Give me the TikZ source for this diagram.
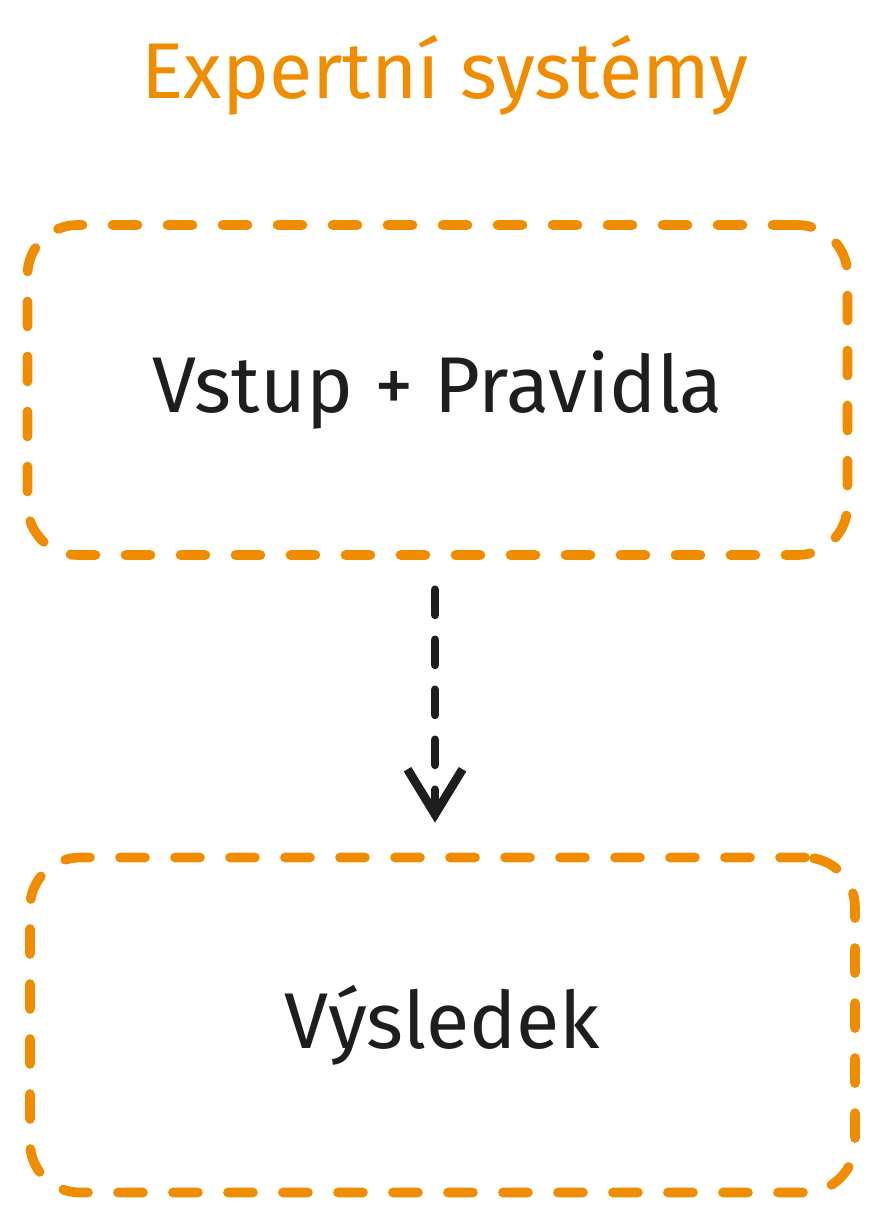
\documentclass[tikz,border=0pt]{standalone}
\usepackage{fontspec}
\setmainfont{Fira Sans}
\usepackage[dvipsnames]{xcolor}
\usetikzlibrary{positioning,arrows.meta}
\definecolor{boxorange}{HTML}{F08C00}
\definecolor{inkblack}{HTML}{1E1E1E}

\begin{document}
\begin{tikzpicture}[>={Straight Barb[length=0.9cm,width=1.1cm]}, thick,
    box node/.style={draw=boxorange, line width=5.5pt, rounded corners=1cm, dash pattern=on 0.5cm off 0.6cm, line cap=round, minimum width=16.4cm, minimum height=6.6cm, text=inkblack, font=\fontsize{45}{52}\selectfont},
    title node/.style={text=boxorange, font=\fontsize{45}{52}\selectfont}]

    \useasboundingbox (0,0) rectangle (17.52,-24.32);

    \node[title node] (title) at (8.9,-1.5) {Expertní systémy};
    \node[box node] (input) at (8.75,-7.8) {Vstup + Pravidla};
    \node[box node, minimum width=16.5cm, minimum height=6.7cm] (result) at (8.85,-20.5) {Výsledek};

    \draw[->, inkblack, line width=5pt, dash pattern=on 0.5cm off 0.5cm, line cap=round] (input.south -| 8.7,0) ++(0,-0.6) coordinate (a) -- ([yshift=0.6cm]result.north -| 8.7,0);
\end{tikzpicture}
\end{document}
